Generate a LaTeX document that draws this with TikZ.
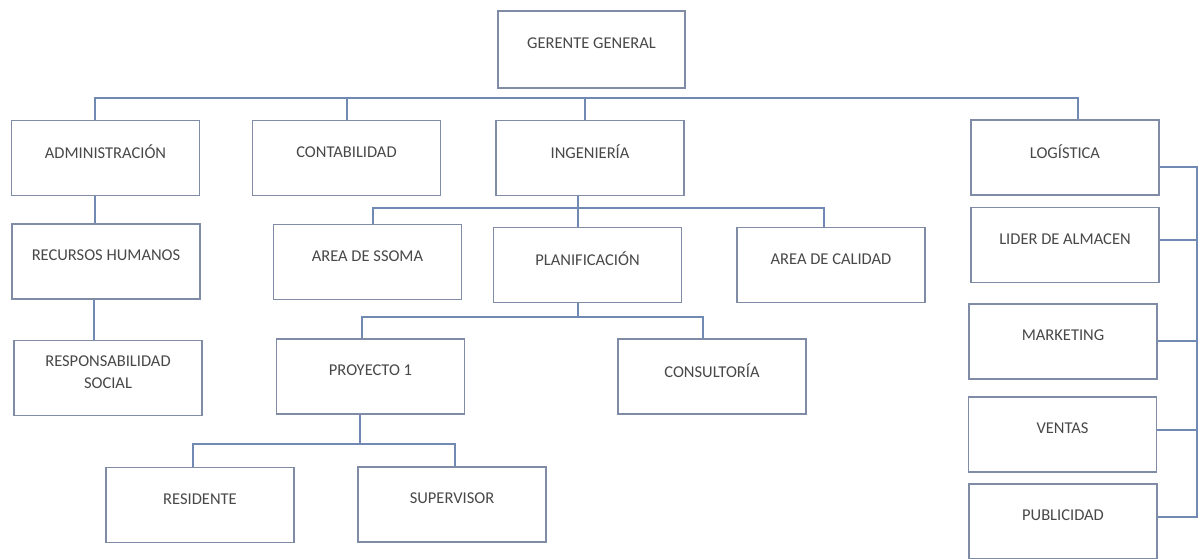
\documentclass[tikz,border=0pt]{standalone}
\usepackage{fontspec}
\setmainfont{Carlito}
\usetikzlibrary{calc}
\definecolor{bcol}{RGB}{128,140,165}
\definecolor{lcol}{RGB}{112,138,180}
\definecolor{tcol}{RGB}{72,72,72}
\tikzset{
  box/.style={draw=bcol, line width=1.5pt, fill=white, inner sep=0pt,
    minimum width=188pt, minimum height=75pt},
  lbl/.style={text=tcol, font=\fontsize{16.5}{22}\selectfont, align=center, yshift=6pt},
  conn/.style={draw=lcol, line width=1.5pt}
}
\begin{document}
\begin{tikzpicture}[x=1pt,y=-1pt]
\useasboundingbox[fill=white] (0,0) rectangle (1200,559);
% boxes
\node[box, minimum height=77pt, minimum width=187pt] (g) at (591.5,49.5) {};
\node[box] (adm) at (105.5,158) {};
\node[box] (cont) at (346.5,158) {};
\node[box] (ing) at (590,158) {};
\node[box] (log) at (1065,157.5) {};
\node[box] (rh) at (106,261.5) {};
\node[box] (ssoma) at (367.5,262) {};
\node[box] (plan) at (587.5,265) {};
\node[box] (cal) at (831,265) {};
\node[box] (lider) at (1065,245) {};
\node[box] (resp) at (108,378) {};
\node[box] (proy) at (370.5,376.5) {};
\node[box] (cons) at (712,376.5) {};
\node[box] (mkt) at (1063,341.5) {};
\node[box] (ven) at (1062.5,434.5) {};
\node[box] (pub) at (1063,521.5) {};
\node[box] (res) at (200,505) {};
\node[box] (sup) at (452,504.5) {};
% labels
\node[lbl] at (g) {GERENTE GENERAL};
\node[lbl] at (adm) {ADMINISTRACIÓN};
\node[lbl] at (cont) {CONTABILIDAD};
\node[lbl] at (ing) {INGENIERÍA};
\node[lbl] at (log) {LOGÍSTICA};
\node[lbl] at (rh) {RECURSOS HUMANOS};
\node[lbl] at (ssoma) {AREA DE SSOMA};
\node[lbl] at (plan) {PLANIFICACIÓN};
\node[lbl] at (cal) {AREA DE CALIDAD};
\node[lbl] at (lider) {LIDER DE ALMACEN};
\node[lbl] at (resp) {RESPONSABILIDAD\\SOCIAL};
\node[lbl] at (proy) {PROYECTO 1};
\node[lbl] at (cons) {CONSULTORÍA};
\node[lbl] at (mkt) {MARKETING};
\node[lbl] at (ven) {VENTAS};
\node[lbl] at (pub) {PUBLICIDAD};
\node[lbl] at (res) {RESIDENTE};
\node[lbl] at (sup) {SUPERVISOR};
% bus coordinates
\coordinate (m1) at (95,98);
\coordinate (m2) at (347,98);
\coordinate (m3) at (585,98);
\coordinate (m4) at (1078,98);
\coordinate (i0) at (578,208);
\coordinate (i1) at (373,208);
\coordinate (i2) at (824,208);
\coordinate (p0) at (578,317);
\coordinate (p1) at (362,317);
\coordinate (p2) at (703,317);
\coordinate (q0) at (360,444);
\coordinate (q1) at (193,444);
\coordinate (q2) at (455,444);
\coordinate (r1) at (1197,167);
\coordinate (r2) at (1197,240);
\coordinate (r3) at (1197,341);
\coordinate (r4) at (1197,430);
\coordinate (r5) at (1197,517);
% connectors
\draw[conn] (m1 |- adm.north) -- (m1) -- (m4) -- (m4 |- log.north);
\draw[conn] (m2) -- (m2 |- cont.north);
\draw[conn] (m3) -- (m3 |- ing.north);
\draw[conn] (m1 |- adm.south) -- (m1 |- rh.north);
\draw[conn] ($(rh.south)+(-12,0)$) -- ($(resp.north)+(-14,0)$);
\draw[conn] (i0 |- ing.south) -- (i0);
\draw[conn] (i1 |- ssoma.north) -- (i1) -- (i2) -- (i2 |- cal.north);
\draw[conn] (i0) -- (i0 |- plan.north);
\draw[conn] (p0 |- plan.south) -- (p0);
\draw[conn] (p1 |- proy.north) -- (p1) -- (p2) -- (p2 |- cons.north);
\draw[conn] (q0 |- proy.south) -- (q0);
\draw[conn] (q1 |- res.north) -- (q1) -- (q2) -- (q2 |- sup.north);
\draw[conn] (log.east |- r1) -- (r1) -- (r5) -- (pub.east |- r5);
\draw[conn] (lider.east |- r2) -- (r2);
\draw[conn] (mkt.east |- r3) -- (r3);
\draw[conn] (ven.east |- r4) -- (r4);
\end{tikzpicture}
\end{document}
